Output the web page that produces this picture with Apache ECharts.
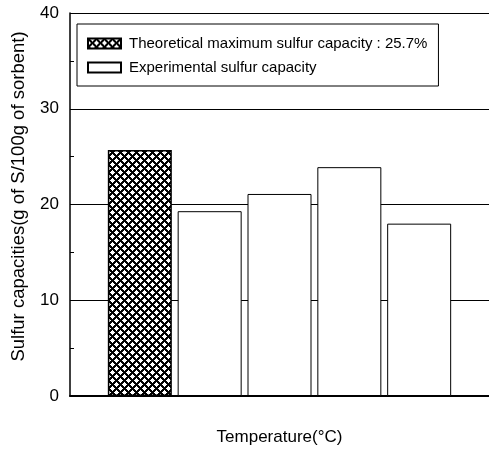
<!DOCTYPE html>
<html>
<head>
<meta charset="utf-8">
<script src="https://cdn.jsdelivr.net/npm/echarts@6/dist/echarts.min.js"></script>
<style>
  html, body { margin: 0; padding: 0; background: #fff; }
  #chart { width: 489px; height: 466px; }
</style>
</head>
<body>
<div id="chart"></div>
<script>
// Category slots: blank slots at both ends pad the frame around the bars
const categories = ['', 'Theoretical', 'Run 1', 'Run 2', 'Run 3', 'Run 4', ''];
const theoreticalValues = [null, 25.7, null, null, null, null, null];
const experimentalValues = [null, null, 19.3, 21.1, 23.9, 18.0, null];
const yTicks = [0, 10, 20, 30, 40];

const seriesNames = ['Theoretical maximum sulfur capacity : 25.7%', 'Experimental sulfur capacity'];
const FONT = 'Liberation Sans, Arial, sans-serif';

// Cross-hatch fill: crisp 3px diagonals in both directions on a white tile
function crossHatch(n) {
  const c = document.createElement('canvas');
  c.width = n; c.height = n;
  const g = c.getContext('2d');
  g.fillStyle = '#fff';
  g.fillRect(0, 0, n, n);
  g.fillStyle = '#000';
  const near = (v) => v <= 1 || v >= n - 1;
  for (let y = 0; y < n; y++) {
    for (let x = 0; x < n; x++) {
      const a = ((x - y) % n + n) % n;
      const b = (x + y) % n;
      if (near(a) || near(b)) g.fillRect(x, y, 1, 1);
    }
  }
  return c;
}
const hatch = { image: crossHatch(8), repeat: 'repeat' };

const chart = echarts.init(document.getElementById('chart'), null, { renderer: 'canvas' });
chart.setOption({
  animation: false,
  backgroundColor: '#fff',
  textStyle: { fontFamily: FONT, color: '#000' },
  grid: { left: 70, top: 13, width: 422, height: 383, containLabel: false },
  legend: {
    orient: 'vertical',
    left: 77,
    top: 24,
    padding: [12, 11, 11, 10],
    itemGap: 9,
    itemWidth: 33,
    itemHeight: 10,
    icon: 'rect',
    borderColor: '#000',
    borderWidth: 1,
    textStyle: { fontFamily: FONT, fontSize: 15, color: '#000', padding: [0, 0, 0, 3] },
    data: seriesNames
  },
  xAxis: {
    type: 'category',
    data: categories,
    boundaryGap: false,
    name: 'Temperature(°C)',
    nameLocation: 'middle',
    nameGap: 33,
    nameTextStyle: { fontFamily: FONT, fontSize: 17, color: '#000' },
    axisLine: { lineStyle: { color: '#000', width: 2 } },
    axisTick: { show: false },
    axisLabel: { show: false },
    splitLine: { show: false }
  },
  yAxis: {
    type: 'value',
    min: yTicks[0],
    max: yTicks[yTicks.length - 1],
    interval: 10,
    name: 'Sulfur capacities(g of S/100g of sorbent)',
    nameLocation: 'middle',
    nameGap: 42,
    nameTextStyle: { fontFamily: FONT, fontSize: 18.5, color: '#000', padding: [0, 0, 0, 16] },
    axisLine: { show: true, lineStyle: { color: '#000', width: 1.5 } },
    axisTick: { show: true, inside: true, length: 4, lineStyle: { color: '#000' } },
    minorTick: { show: true, splitNumber: 2, length: 4, lineStyle: { color: '#000' } },
    axisLabel: { fontFamily: FONT, fontSize: 17, color: '#000', margin: 11 },
    splitLine: { show: true, lineStyle: { color: '#000', width: 1 } }
  },
  series: [
    {
      name: seriesNames[0],
      type: 'bar',
      data: theoreticalValues,
      barWidth: 64,
      barGap: '-100%',
      itemStyle: { color: hatch, borderColor: '#000', borderWidth: 1.5 }
    },
    {
      name: seriesNames[1],
      type: 'bar',
      data: experimentalValues,
      barWidth: 64,
      barGap: '-100%',
      itemStyle: { color: '#fff', borderColor: '#000', borderWidth: 1 }
    }
  ]
});
</script>
</body>
</html>
